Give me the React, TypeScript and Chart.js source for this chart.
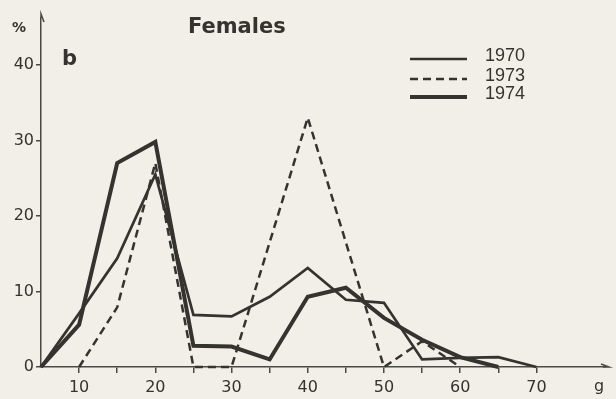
import React, { useEffect, useRef } from "react";
import { Chart, registerables } from "chart.js";

Chart.register(...registerables);

// ---- data (weight in g, share in %) ----
const grams1970 = [5, 10, 15, 20, 25, 30, 35, 40, 45, 50, 55, 60, 65, 70];
const pct1970 = [0, 7.1, 14.4, 25.5, 6.9, 6.7, 9.3, 13.1, 8.9, 8.5, 1.0, 1.2, 1.3, 0];

const grams1973 = [10, 15, 20, 25, 30, 40, 50, 55, 60];
const pct1973 = [0, 7.9, 27, 0, 0, 33, 0, 3.4, 0];

const grams1974 = [5, 10, 15, 20, 25, 30, 35, 40, 45, 50, 55, 60, 65];
const pct1974 = [0, 5.6, 27, 29.8, 2.8, 2.7, 1.0, 9.3, 10.5, 6.5, 3.6, 1.3, 0];

const seriesLabels = ["1970", "1973", "1974"];
const xTickValues = [10, 15, 20, 25, 30, 35, 40, 45, 50, 55, 60, 65, 70];
const yTickValues = [0, 10, 20, 30, 40];

const INK = "#34332f";
const AXIS = "#4a4945";
const BG = "#f1efe7";
const FONT = '"DejaVu Sans", sans-serif';
const LEGEND_FONT = '"Liberation Sans", sans-serif';

const toPoints = (xs: number[], ys: number[]) => xs.map((x, i) => ({ x, y: ys[i] }));

const decorPlugin = {
  id: "decor",
  afterDraw(chart: any) {
    const { ctx, chartArea } = chart;
    const ys = chart.scales.y;
    ctx.save();
    ctx.fillStyle = INK;
    ctx.strokeStyle = AXIS;
    // axis arrow heads
    ctx.lineWidth = 1.5;
    ctx.beginPath();
    ctx.moveTo(chartArea.left, chartArea.top);
    ctx.lineTo(chartArea.left, chartArea.top - 4);
    ctx.lineTo(chartArea.left + 3, chartArea.top + 4);
    ctx.stroke();
    ctx.beginPath();
    ctx.moveTo(chartArea.right - 2, ys.getPixelForValue(0));
    ctx.lineTo(chartArea.right + 4, ys.getPixelForValue(0));
    ctx.lineTo(chartArea.right - 4, ys.getPixelForValue(0) - 3);
    ctx.stroke();

    // titles
    ctx.textBaseline = "alphabetic";
    ctx.textAlign = "left";
    ctx.font = `bold 21px ${FONT}`;
    ctx.fillText("Females", 188, 33);
    ctx.fillText("b", 62, 65);
    ctx.font = `bold 14px ${FONT}`;
    ctx.fillText("%", 12, 32);
    ctx.font = `16px ${FONT}`;
    ctx.fillText("g", 594, 391);

    // legend
    const legendY = [59, 79, 97];
    const ds = chart.data.datasets;
    ds.forEach((d: any, i: number) => {
      ctx.beginPath();
      ctx.strokeStyle = INK;
      ctx.lineWidth = d.borderWidth;
      ctx.setLineDash(d.borderDash || []);
      ctx.moveTo(410, legendY[i]);
      ctx.lineTo(467, legendY[i]);
      ctx.stroke();
      ctx.setLineDash([]);
      ctx.font = `18px ${LEGEND_FONT}`;
      ctx.fillText(d.label, 485, legendY[i] + 2);
    });
    ctx.restore();
  },
};

export default function App() {
  const ref = useRef<HTMLCanvasElement>(null);
  useEffect(() => {
    if (!ref.current) return;
    const chart = new Chart(ref.current, {
      type: "line",
      data: {
        datasets: [
          {
            label: seriesLabels[0],
            data: toPoints(grams1970, pct1970),
            borderColor: INK,
            borderWidth: 2.7,
            pointRadius: 0,
            tension: 0,
            borderJoinStyle: "miter",
            clip: false,
          } as any,
          {
            label: seriesLabels[1],
            data: toPoints(grams1973, pct1973),
            borderColor: INK,
            borderWidth: 2.5,
            borderDash: [8, 5],
            pointRadius: 0,
            tension: 0,
            borderJoinStyle: "miter",
            clip: false,
          },
          {
            label: seriesLabels[2],
            data: toPoints(grams1974, pct1974),
            borderColor: INK,
            borderWidth: 4,
            pointRadius: 0,
            tension: 0,
            borderJoinStyle: "miter",
            clip: false,
          },
        ],
      },
      options: {
        animation: false,
        responsive: false,
        events: [],
        layout: { padding: { top: 18, right: 11, left: 0, bottom: 0 } },
        plugins: { legend: { display: false }, tooltip: { enabled: false } },
        scales: {
          x: {
            type: "linear",
            min: 5,
            max: 79,
            afterBuildTicks: (s: any) => {
              s.ticks = xTickValues.map((v) => ({ value: v }));
            },
            afterFit: (s: any) => {
              s.height = 32;
            },
            ticks: {
              autoSkip: false,
              maxRotation: 0,
              padding: 5,
              color: INK,
              font: { family: "DejaVu Sans", size: 16 },
              callback: (v: any) => (Number(v) % 10 === 0 ? String(v) : ""),
            },
            grid: { drawOnChartArea: false, drawTicks: true, tickLength: 6, color: AXIS, lineWidth: 1.5 },
            border: { display: true, color: AXIS, width: 1.5 },
          },
          y: {
            type: "linear",
            min: 0,
            max: 46.2,
            afterBuildTicks: (s: any) => {
              s.ticks = yTickValues.map((v) => ({ value: v }));
            },
            afterFit: (s: any) => {
              s.width = 41;
            },
            ticks: {
              padding: 2,
              color: INK,
              font: { family: "DejaVu Sans", size: 16 },
            },
            grid: { drawOnChartArea: false, drawTicks: true, tickLength: 5, color: AXIS, lineWidth: 1.5 },
            border: { display: true, color: AXIS, width: 1.5 },
          },
        },
      },
      plugins: [decorPlugin],
    });
    return () => chart.destroy();
  }, []);
  return (
    <div style={{ position: "fixed", left: 0, top: 0, width: 616, height: 399, background: BG }}>
      <canvas ref={ref} width={616} height={399} style={{ display: "block" }} />
    </div>
  );
}
